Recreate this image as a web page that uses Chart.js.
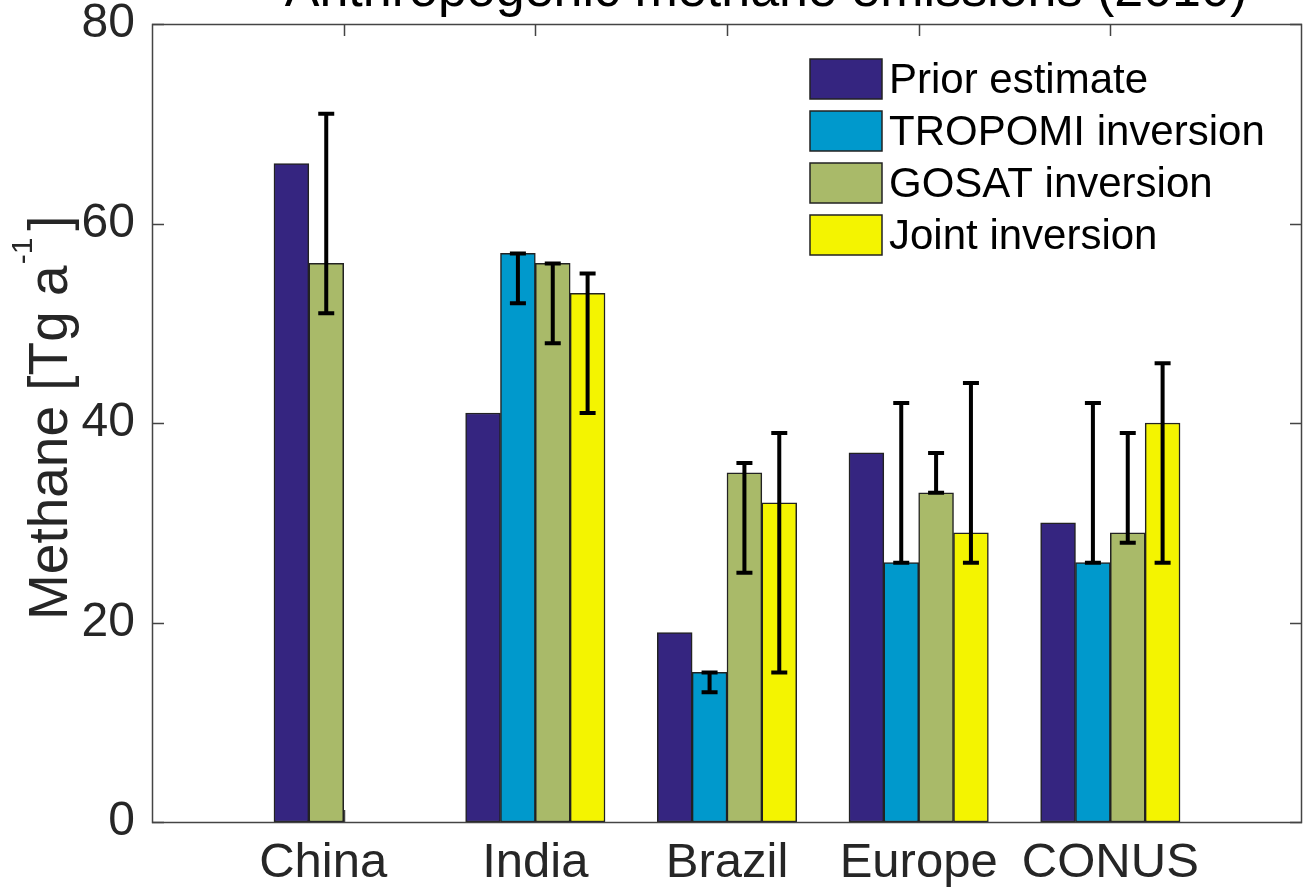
<!DOCTYPE html>
<html>
<head>
<meta charset="utf-8">
<script src="https://cdn.jsdelivr.net/npm/chart.js@4.4.1/dist/chart.umd.min.js"></script>
<style>
html,body{margin:0;padding:0;background:#fff;}
#wrap{width:1304px;height:896px;}
</style>
</head>
<body>
<div id="wrap"><canvas id="chart" width="1304" height="896"></canvas></div>
<script>
// values
const categories = ['China', 'India', 'Brazil', 'Europe', 'CONUS'];
const xTickLabels = ['China   ', 'India', 'Brazil', 'Europe', 'CONUS'];
const groupX = [1, 2, 3, 4, 5];
const seriesNames = ['Prior estimate', 'TROPOMI inversion', 'GOSAT inversion', 'Joint inversion'];
const prior   = [66, 41, 19, 37, 30];
const tropomi = [null, 57, 15, 26, 26];
const gosat   = [56, 56, 35, 33, 29];
const joint   = [null, 53, 32, 29, 40];
// error bar ranges
const tropomiLo = [null, 52, 13, 26, 26];
const tropomiHi = [null, 57, 15, 42, 42];
const gosatLo   = [51, 48, 25, 33, 28];
const gosatHi   = [71, 56, 36, 37, 39];
const jointLo   = [null, 41, 15, 26, 26];
const jointHi   = [null, 55, 39, 44, 46];
const yTicks = [0, 20, 40, 60, 80];

const colors = ['#352580', '#0099cc', '#a9ba69', '#f4f400'];
const FONT = '"Liberation Sans", Arial, Helvetica, sans-serif';

const allSeries = [prior, tropomi, gosat, joint];
const lows  = [null, tropomiLo, gosatLo, jointLo];
const highs = [null, tropomiHi, gosatHi, jointHi];

// matlab style grouping: 4 bars in 4/5.5 of a unit
const barW = (4 / 5.5) / 4;

// bars in a group are packed from the left slot (China only has two)
let slots = allSeries.map(() => []);
categories.forEach((c, i) => {
  let k = 0;
  allSeries.forEach((s, j) => {
    if (s[i] != null) { slots[j][i] = k; k++; }
  });
});

let datasets = allSeries.map((s, j) => {
  let pts = [];
  s.forEach((v, i) => {
    if (v == null) return;
    pts.push({
      x: groupX[i] + (slots[j][i] - 1.5) * barW,
      y: v,
      lo: lows[j] ? lows[j][i] : null,
      hi: highs[j] ? highs[j][i] : null
    });
  });
  return {label: seriesNames[j], data: pts, backgroundColor: colors[j]};
});

const matlabAxes = {
  id: 'matlabAxes',
  beforeDatasetsDraw(chart) {
    const {ctx, chartArea: a, scales: {x, y}} = chart;
    ctx.save();
    ctx.strokeStyle = '#444';
    ctx.lineWidth = 1.5;
    ctx.beginPath();
    yTicks.forEach(v => {
      let py = Math.round(y.getPixelForValue(v)) + 0.5;
      ctx.moveTo(a.left, py); ctx.lineTo(a.left + 12, py);
      ctx.moveTo(a.right, py); ctx.lineTo(a.right - 12, py);
    });
    groupX.forEach(v => {
      let px = Math.round(x.getPixelForValue(v)) + 0.5;
      ctx.moveTo(px, a.bottom); ctx.lineTo(px, a.bottom - 12);
      ctx.moveTo(px, a.top); ctx.lineTo(px, a.top + 12);
    });
    ctx.stroke();
    ctx.restore();
  },
  afterDatasetsDraw(chart) {
    const {ctx, chartArea: a, scales: {y}} = chart;
    ctx.save();

    // error bars
    ctx.strokeStyle = '#000';
    ctx.lineWidth = 4;
    chart.data.datasets.forEach((ds, j) => {
      let meta = chart.getDatasetMeta(j);
      ds.data.forEach((p, i) => {
        if (p.lo == null) return;
        let bx = meta.data[i].x;
        let y1 = y.getPixelForValue(p.lo), y2 = y.getPixelForValue(p.hi);
        ctx.beginPath();
        ctx.moveTo(bx, y1); ctx.lineTo(bx, y2);
        ctx.moveTo(bx - 8, y1); ctx.lineTo(bx + 8, y1);
        ctx.moveTo(bx - 8, y2); ctx.lineTo(bx + 8, y2);
        ctx.stroke();
      });
    });

    // axes box
    ctx.strokeStyle = '#444';
    ctx.lineWidth = 1.5;
    ctx.strokeRect(a.left + 0.5, a.top + 0.5, a.right - a.left - 1, a.bottom - a.top);

    // legend
    ctx.font = '42px ' + FONT;
    ctx.textBaseline = 'middle';
    ctx.textAlign = 'left';
    seriesNames.forEach((name, j) => {
      let top = 59 + j * 52;
      ctx.fillStyle = colors[j];
      ctx.fillRect(810, top, 72, 40);
      ctx.strokeStyle = '#222';
      ctx.lineWidth = 1.5;
      ctx.strokeRect(810, top, 72, 40);
      ctx.fillStyle = '#000';
      ctx.fillText(name, 889, top + 22);
    });

    // title (cut off at the top like the original)
    ctx.fillStyle = '#000';
    ctx.font = '52px ' + FONT;
    ctx.textAlign = 'center';
    ctx.textBaseline = 'alphabetic';
    ctx.fillText('Anthropogenic methane emissions (2010)', 766, 6);

    // y axis label with superscript
    ctx.fillStyle = '#262626';
    ctx.translate(67, 620);
    ctx.rotate(-Math.PI / 2);
    ctx.textAlign = 'left';
    ctx.font = '55px ' + FONT;
    let t1 = 'Methane [Tg a';
    ctx.fillText(t1, 0, 0);
    let w = ctx.measureText(t1).width;
    ctx.font = '30px ' + FONT;
    ctx.fillText('-1', w + 1, -35);
    w += ctx.measureText('-1').width + 8;
    ctx.font = '55px ' + FONT;
    ctx.fillText(']', w, 0);

    ctx.restore();
  }
};

const ctx = document.getElementById('chart').getContext('2d');
const chart = new Chart(ctx, {
  type: 'bar',
  data: {datasets: datasets},
  options: {
    responsive: false,
    animation: false,
    layout: {padding: {top: 24, right: 2, left: 0, bottom: 0}},
    datasets: {
      bar: {
        grouped: false,
        barPercentage: 1,
        categoryPercentage: 1,
        borderWidth: 1.5,
        borderColor: '#222',
        borderSkipped: false
      }
    },
    plugins: {
      legend: {display: false},
      tooltip: {enabled: false},
      title: {display: false}
    },
    scales: {
      x: {
        type: 'linear',
        min: 0,
        max: 6,
        offset: false,
        grid: {display: false, drawTicks: false},
        border: {display: false},
        afterBuildTicks: s => { s.ticks = groupX.map(v => ({value: v})); },
        afterFit: s => { s.height = 74; s.paddingLeft = 0; s.paddingRight = 0; },
        ticks: {
          callback: (v, i) => xTickLabels[i],
          color: '#262626',
          font: {family: FONT, size: 49},
          padding: 12,
          maxRotation: 0,
          autoSkip: false
        }
      },
      y: {
        min: 0,
        max: 80,
        grid: {display: false, drawTicks: false},
        border: {display: false},
        afterBuildTicks: s => { s.ticks = yTicks.map(v => ({value: v})); },
        afterFit: s => { s.width = 152; s.paddingTop = 0; s.paddingBottom = 0; },
        ticks: {
          color: '#262626',
          font: {family: FONT, size: 48},
          padding: 17
        }
      }
    }
  },
  plugins: [matlabAxes]
});
</script>
</body>
</html>
